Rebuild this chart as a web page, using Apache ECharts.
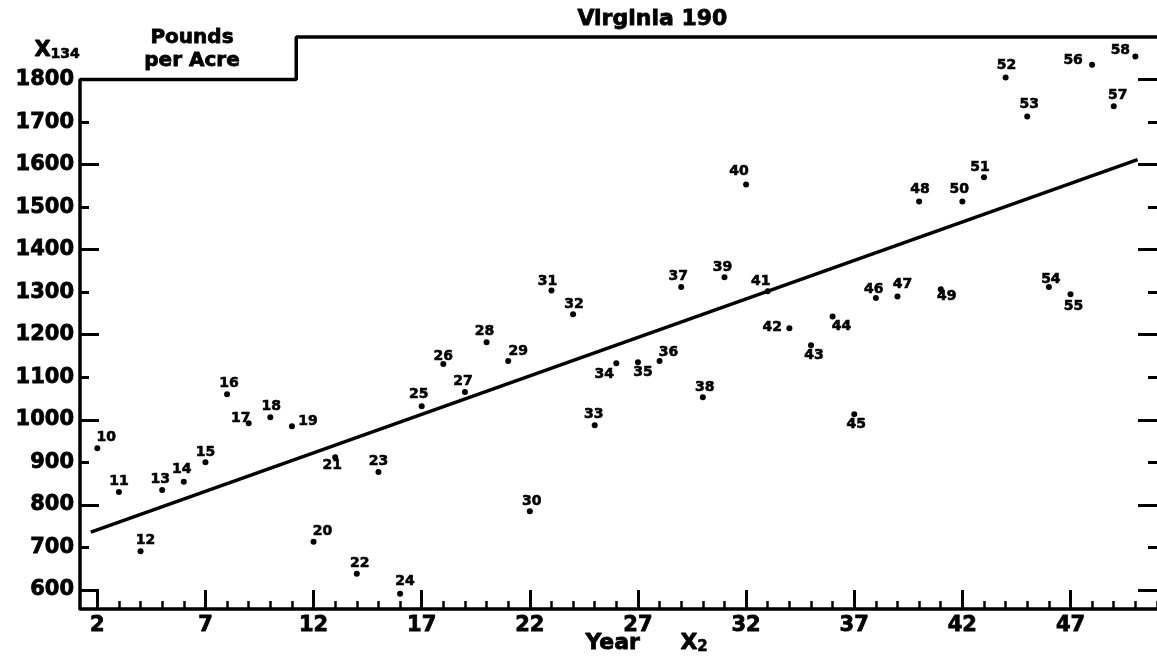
<!DOCTYPE html>
<html>
<head>
<meta charset="utf-8">
<script src="https://cdn.jsdelivr.net/npm/echarts@6/dist/echarts.min.js"></script>
<style>
html,body{margin:0;padding:0;background:#fff;}
#chart{width:1157px;height:658px;}
</style>
</head>
<body>
<div id="chart"></div>
<script>
// ---- data ----
const pointLabels = [10,11,12,13,14,15,16,17,18,19,20,21,22,23,24,25,26,27,28,29,30,31,32,33,34,35,36,37,38,39,40,41,42,43,44,45,46,47,48,49,50,51,52,53,54,55,56,57,58];
const yearX2 = [2,3,4,5,6,7,8,9,10,11,12,13,14,15,16,17,18,19,20,21,22,23,24,25,26,27,28,29,30,31,32,33,34,35,36,37,38,39,40,41,42,43,44,45,46,47,48,49,50];
const poundsPerAcre = [933,830,691,835,854,900,1060,992,1006,985,713,912,638,877,591,1032,1131,1065,1182,1138,785,1304,1248,987,1133,1135,1138,1312,1053,1335,1553,1302,1215,1175,1243,1013,1286,1290,1513,1307,1513,1570,1805,1713,1312,1295,1835,1737,1854];
const fitYears = [1.7, 50.1];
const fitIntercept = 705;
const fitSlope = 18.1;
const xMajorTicks = [2,7,12,17,22,27,32,37,42,47];
const xMinorTicks = yearX2.concat([51]);
const yTickLabels = [600,700,800,900,1000,1100,1200,1300,1400,1500,1600,1700,1800];
const yLongTicks = [600,800,1000,1200,1400,1600,1800];
const yShortTicks = [700,900,1100,1300,1500,1700];
const frameYears = [1.2, 1.2, 11.2, 11.2, 51];
const frameValues = [555, 1800, 1800, 1900, 1900];

// ---- styling (label offsets relative to dot) ----
const labelOffsets = {
 10:[9,-11],11:[0,-11],12:[5,-11],13:[-2,-11],14:[-2,-12],15:[0,-10],16:[2,-11],17:[-8,-5],18:[1,-11],19:[16,-5],
 20:[9,-10],21:[-3,8],22:[3,-10],23:[0,-11],24:[5,-12],25:[-3,-12],26:[0,-8],27:[-2,-11],28:[-2,-11],29:[10,-10],
 30:[2,-10],31:[-4,-9],32:[1,-10],33:[-1,-11],34:[-12,11],35:[5,10],36:[9,-9],37:[-3,-11],38:[2,-10],39:[-2,-10],
 40:[-7,-13],41:[-7,-10],42:[-17,-1],43:[3,10],44:[9,10],45:[2,10],46:[-2,-9],47:[5,-12],48:[1,-12],49:[6,7],
 50:[-3,-12],51:[-4,-10],52:[1,-12],53:[2,-12],54:[2,-8],55:[3,12],56:[-19,-4],57:[4,-11],58:[-15,-6]
};

const FONT = '"DejaVu Sans", sans-serif';
const XMIN = 1.2, XMAX = 51, YMIN = 555, YMAX = 1900;

const labelStyle = { color: '#000', fontFamily: FONT, fontWeight: 'bold', fontSize: 14, textBorderColor: '#000', textBorderWidth: 0.6 };

const scatterData = pointLabels.map((lab, i) => ({
  value: [yearX2[i], poundsPerAcre[i]],
  label: Object.assign({ show: true, formatter: String(lab), position: 'inside', offset: labelOffsets[lab] || [0,-11] }, labelStyle)
}));

const fitData = fitYears.map(x => [x, fitIntercept + fitSlope * x]);
const frameData = frameYears.map((x, i) => [x, frameValues[i]]);

function xAx(extra) {
  return Object.assign({
    type: 'value', min: XMIN, max: XMAX, gridIndex: 0,
    splitLine: { show: false }, axisLine: { show: false },
    axisTick: { show: false }, axisLabel: { show: false }
  }, extra);
}
function yAx(extra) {
  return Object.assign({
    type: 'value', min: YMIN, max: YMAX, gridIndex: 0,
    splitLine: { show: false }, axisLine: { show: false },
    axisTick: { show: false }, axisLabel: { show: false }
  }, extra);
}

const axisLabelStyle = { color: '#000', fontFamily: FONT, fontWeight: 'bold', fontSize: 21, textBorderColor: '#000', textBorderWidth: 0.8 };

const chart = echarts.init(document.getElementById('chart'), null, { renderer: 'canvas' });
chart.setOption({
  backgroundColor: '#fff',
  animation: false,
  grid: { left: 80, right: -3, top: 37, bottom: 49, containLabel: false },
  xAxis: [
    xAx({
      position: 'bottom',
      axisLine: { show: true, onZero: false, lineStyle: { color: '#000', width: 3.5 } },
      axisTick: { show: true, inside: true, length: 8, customValues: xMinorTicks, lineStyle: { color: '#000', width: 2.5 } }
    }),
    xAx({
      position: 'bottom',
      axisTick: { show: true, inside: true, length: 19, customValues: xMajorTicks, lineStyle: { color: '#000', width: 3 } },
      axisLabel: Object.assign({ show: true, customValues: xMajorTicks, margin: 6, formatter: v => String(v) }, axisLabelStyle)
    })
  ],
  yAxis: [
    yAx({
      position: 'left',
      axisTick: { show: true, inside: true, length: 9, customValues: yShortTicks, lineStyle: { color: '#000', width: 3 } },
      axisLabel: Object.assign({ show: true, customValues: yTickLabels, margin: 6, formatter: v => String(v) }, axisLabelStyle)
    }),
    yAx({
      position: 'left',
      axisTick: { show: true, inside: true, length: 19, customValues: yLongTicks, lineStyle: { color: '#000', width: 3 } }
    }),
    yAx({
      position: 'right',
      axisTick: { show: true, inside: true, length: 9, customValues: yShortTicks, lineStyle: { color: '#000', width: 3 } }
    }),
    yAx({
      position: 'right',
      axisTick: { show: true, inside: true, length: 19, customValues: yLongTicks, lineStyle: { color: '#000', width: 3 } }
    })
  ],
  series: [
    {
      type: 'line', name: 'frame', xAxisIndex: 0, yAxisIndex: 0,
      data: frameData, symbol: 'none', clip: false, silent: true,
      lineStyle: { color: '#000', width: 3.5 }
    },
    {
      type: 'line', name: 'fit', xAxisIndex: 0, yAxisIndex: 0,
      data: fitData, symbol: 'none', clip: false, silent: true,
      lineStyle: { color: '#000', width: 3.5 }
    },
    {
      type: 'scatter', name: 'Virginia 190', xAxisIndex: 0, yAxisIndex: 0,
      data: scatterData, symbol: 'circle', symbolSize: 6,
      itemStyle: { color: '#000', opacity: 1 },
      emphasis: { disabled: true },
      label: labelStyle
    }
  ],
  graphic: [
    { type: 'text', left: 577, top: 8, style: { text: 'Virginia 190', fill: '#000', font: 'bold 22px ' + FONT, stroke: '#000', lineWidth: 0.8 } },
    { type: 'text', left: 133, top: 26, style: { text: 'Pounds\nper Acre', fill: '#000', font: 'bold 20px ' + FONT, textAlign: 'center', lineHeight: 23, width: 118, stroke: '#000', lineWidth: 0.8 } },
    { type: 'text', left: 34, top: 40, style: { text: '{a|X}{b|134}', fill: '#000', rich: { a: { font: 'bold 21px ' + FONT, fill: '#000', stroke: '#000', lineWidth: 0.8 }, b: { font: 'bold 14px ' + FONT, fill: '#000', stroke: '#000', lineWidth: 0.6, verticalAlign: 'bottom' } } } },
    { type: 'text', left: 585, top: 632, style: { text: 'Year', fill: '#000', font: 'bold 22px ' + FONT, stroke: '#000', lineWidth: 0.8 } },
    { type: 'text', left: 680, top: 632, style: { text: '{a|X}{b|2}', rich: { a: { font: 'bold 22px ' + FONT, fill: '#000', stroke: '#000', lineWidth: 0.8 }, b: { font: 'bold 15px ' + FONT, fill: '#000', stroke: '#000', lineWidth: 0.6, verticalAlign: 'bottom' } } } }
  ]
});
</script>
</body>
</html>
